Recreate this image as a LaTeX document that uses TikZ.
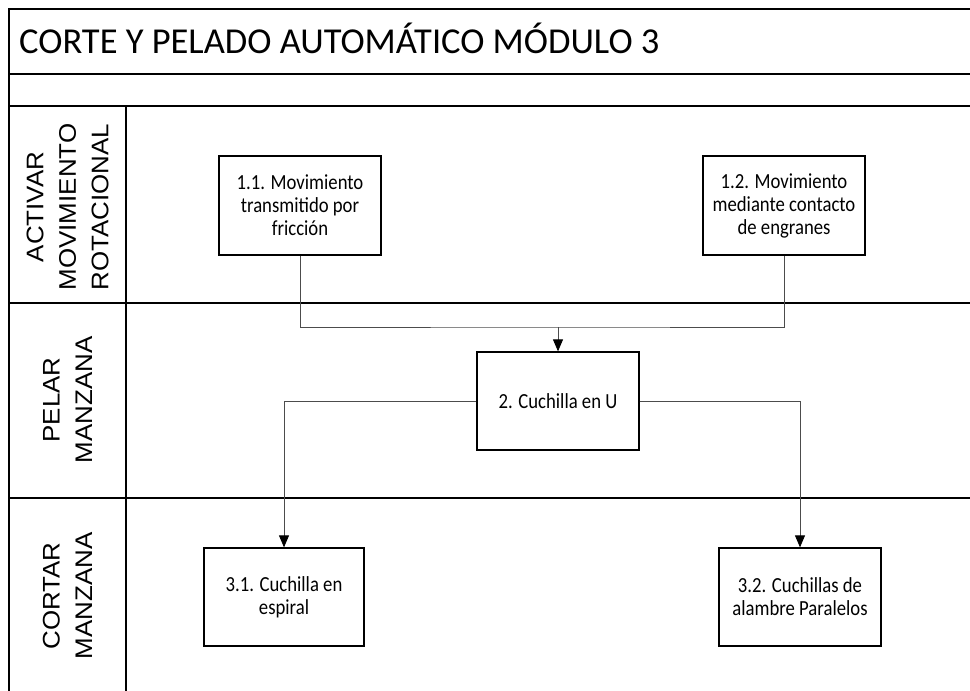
\documentclass[tikz,border=0pt]{standalone}
\usepackage{fontspec}
\setmainfont{Carlito}
\newfontfamily\boxfont[FakeStretch=0.87]{Carlito}
\newfontfamily\lanefont[FakeStretch=1.08]{Liberation Sans}
\usetikzlibrary{arrows.meta}
\begin{document}
\begin{tikzpicture}[x=1pt,y=-1pt,
  frame/.style={line width=2pt},
  task/.style={draw, line width=1.3pt, minimum width=162pt, minimum height=99pt,
    align=center, inner sep=2pt, font=\boxfont\fontsize{21.5}{23}\selectfont},
  link/.style={line width=0.8pt, draw=black!70},
  flow/.style={link, -{Triangle[width=10pt,length=12pt,black]}},
  lane/.style={rotate=90, align=center, font=\lanefont\fontsize{24}{32.5}\selectfont}]
\useasboundingbox (0,0) rectangle (970,691);
\fill[white] (0,0) rectangle (970,691);

% swimlane frame
\draw[frame] (975,9) -- (9,9) -- (9,700);
\draw[frame] (9,74) -- (975,74);
\draw[frame] (9,106) -- (975,106);
\draw[frame] (9,303) -- (975,303);
\draw[frame] (9,498) -- (975,498);
\draw[frame] (126,106) -- (126,700);

% title
\node[anchor=base west, inner sep=0pt, font=\fontsize{36.5}{40}\selectfont] (title) at (19,53)
  {CORTE Y PELADO AUTOMÁTICO MÓDULO 3};

% lane headers
\node[lane] (lane1) at (67.5,207) {ACTIVAR\\MOVIMIENTO\\ROTACIONAL};
\node[lane] (lane2) at (67.5,400) {PELAR\\MANZANA};
\node[lane] (lane3) at (67.5,596) {CORTAR\\MANZANA};

% tasks
\node[task] (b11) at (300,205.5) {1.1. Movimiento\\transmitido por\\fricción};
\node[task] (b12) at (784,205.5) {1.2. Movimiento\\mediante contacto\\de engranes};
\node[task, minimum height=98pt] (b2) at (558,401) {2. Cuchilla en U};
\node[task, minimum width=160pt, minimum height=98pt] (b31) at (284,597) {3.1. Cuchilla en\\espiral};
\node[task, minimum height=98pt] (b32) at (800,597) {3.2. Cuchillas de\\alambre Paralelos};

% connectors
\coordinate (j1) at (558,327);
\draw[link] (b11.south) |- (j1) -| (b12.south);
\draw[flow] (j1) -- (b2.north);
\draw[flow] (b2.west) -| (b31.north);
\draw[flow] (b2.east) -| (b32.north);
\end{tikzpicture}
\end{document}
